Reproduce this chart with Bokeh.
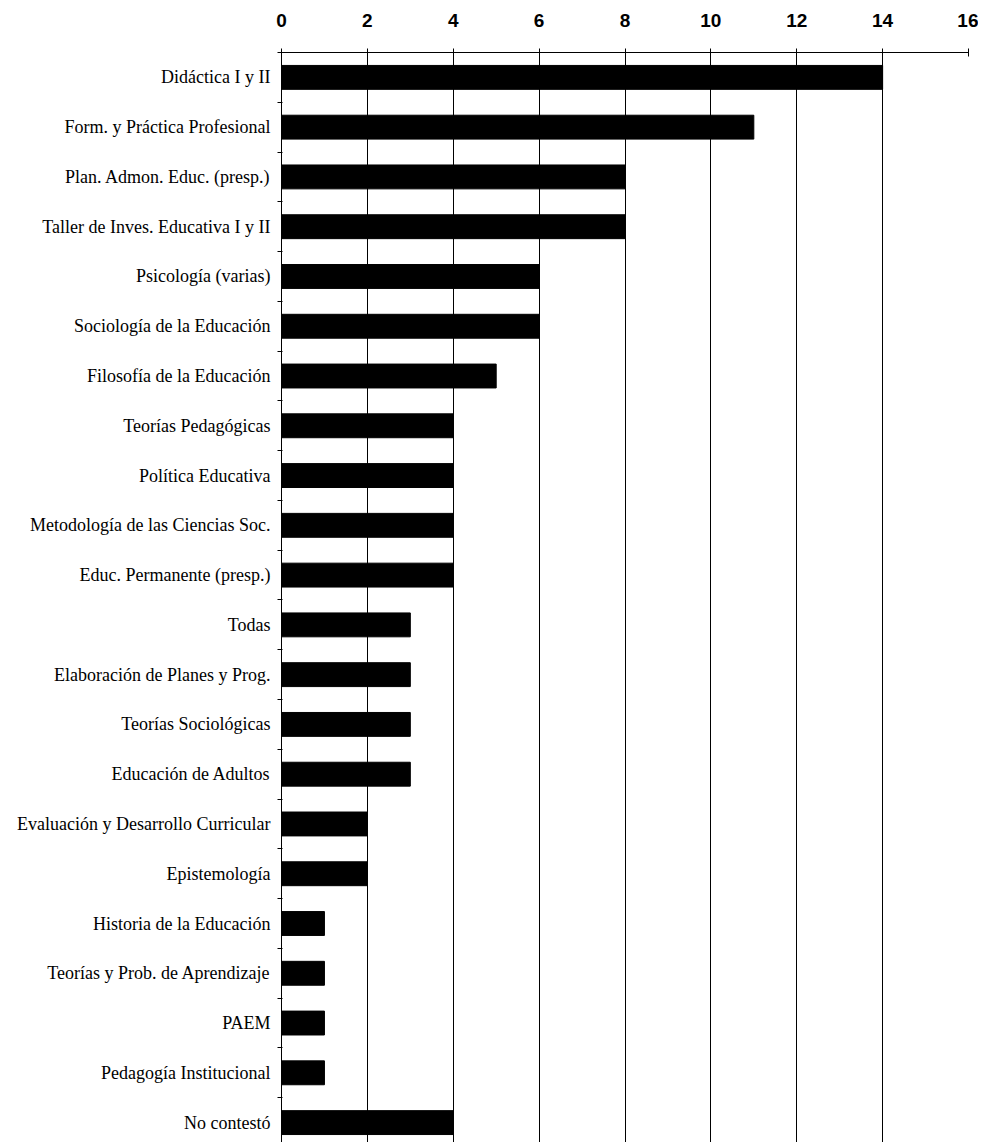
from bokeh.plotting import figure
from bokeh.models import Range1d, FixedTicker, ColumnDataSource
from bokeh.embed import file_html
from bokeh.resources import INLINE

categories = [
    "Didáctica I y II",
    "Form. y Práctica Profesional",
    "Plan. Admon. Educ. (presp.)",
    "Taller de Inves. Educativa I y II",
    "Psicología (varias)",
    "Sociología de la Educación",
    "Filosofía de la Educación",
    "Teorías Pedagógicas",
    "Política Educativa",
    "Metodología de las Ciencias Soc.",
    "Educ. Permanente (presp.)",
    "Todas",
    "Elaboración de Planes y Prog.",
    "Teorías Sociológicas",
    "Educación de Adultos",
    "Evaluación y Desarrollo Curricular",
    "Epistemología",
    "Historia de la Educación",
    "Teorías y Prob. de Aprendizaje",
    "PAEM",
    "Pedagogía Institucional",
    "No contestó",
]
values = [14, 11, 8, 8, 6, 6, 5, 4, 4, 4, 4, 3, 3, 3, 3, 2, 2, 1, 1, 1, 1, 4]
x_ticks = [0, 2, 4, 6, 8, 10, 12, 14, 16]

n = len(categories)
centers = [i + 0.5 for i in range(n)]
boundaries = [float(i) for i in range(n + 1)]

src = ColumnDataSource(dict(y=centers, right=values, name=categories))

p = figure(
    width=978, height=1142,
    x_range=Range1d(0, 16), y_range=Range1d(21.9, 0),
    output_backend="svg", toolbar_location=None,
    x_axis_location="above",
    min_border_left=281, min_border_right=10, min_border_top=52, min_border_bottom=0,
)
p.outline_line_color = None
p.background_fill_color = "white"
p.border_fill_color = "white"

p.hbar(y="y", left=0, right="right", height=0.48, source=src,
       fill_color="black", line_color="black")

xa = p.xaxis[0]
xa.ticker = FixedTicker(ticks=x_ticks)
xa.major_label_text_font = "Liberation Sans"
xa.major_label_text_font_size = "19px"
xa.major_label_text_font_style = "bold"
xa.major_label_text_color = "black"
xa.major_label_standoff = 22
xa.major_tick_in = 4
xa.major_tick_out = 4
xa.minor_tick_in = 0
xa.minor_tick_out = 0
xa.axis_line_color = "black"
xa.axis_line_width = 1
xa.major_tick_line_color = "black"

ya = p.yaxis[0]
ya.ticker = FixedTicker(ticks=centers, minor_ticks=boundaries)
ya.major_label_overrides = {c: name for c, name in zip(centers, categories)}
ya.major_label_text_font = "Liberation Serif"
ya.major_label_text_font_size = "18px"
ya.major_label_text_color = "black"
ya.major_label_standoff = 7
ya.major_tick_in = 0
ya.major_tick_out = 0
ya.minor_tick_in = 1
ya.minor_tick_out = 4
ya.minor_tick_line_color = "black"
ya.axis_line_color = "black"
ya.axis_line_width = 1

p.xgrid.ticker = FixedTicker(ticks=x_ticks)
p.xgrid.grid_line_color = "black"
p.xgrid.grid_line_width = 1
p.ygrid.grid_line_color = None

open("out.html", "w").write(file_html(p, INLINE))
